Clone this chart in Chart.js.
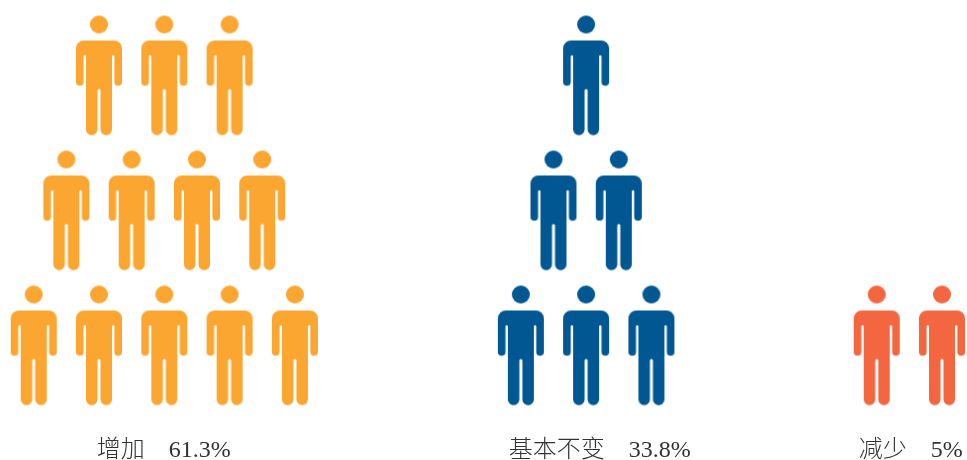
<!DOCTYPE html>
<html>
<head>
<meta charset="utf-8">
<style>
  html, body { margin: 0; padding: 0; background: #fff; }
  #wrap { width: 967px; height: 460px; }
  canvas { display: block; }
</style>
<script src="https://cdn.jsdelivr.net/npm/chart.js@4"></script>
</head>
<body>
<div id="wrap"><canvas id="chart" width="967" height="460"></canvas></div>
<script>
const categories = ['增加', '基本不变', '减少'];
const shares = [61.3, 33.8, 5];
// how many figures stand in each row, top row first
const figuresPerRow = [
    [3, 4, 5],
    [1, 2, 3],
    [0, 0, 2],
];
const colours = ['#fca632', '#005792', '#f36640'];

// layout, in grid units: one column = 65.3px, one row = 135px
const groupCentres = [2, 8.46, 13.41];
const labelCentres = [1.99, 8.67, 13.43];

function personIcon(colour) {
    const c = document.createElement('canvas');
    c.width = 48;
    c.height = 122;
    const g = c.getContext('2d');
    g.translate(24, 1);
    g.fillStyle = colour;

    g.beginPath();
    g.arc(0, 9, 9, 0, Math.PI * 2);
    g.fill();

    g.beginPath();
    g.moveTo(-15, 25);
    g.lineTo(15, 25);
    g.arcTo(23, 25, 23, 33, 8);
    g.lineTo(23, 66.5);
    g.arc(19.2, 66.5, 3.8, 0, Math.PI);
    g.lineTo(15.4, 41);
    g.arc(14.2, 41, 1.2, 0, Math.PI, true);
    g.lineTo(13, 114);
    g.arc(7.25, 114, 5.75, 0, Math.PI);
    g.lineTo(1.5, 75);
    g.arc(0, 75, 1.5, 0, Math.PI, true);
    g.lineTo(-1.5, 114);
    g.arc(-7.25, 114, 5.75, 0, Math.PI);
    g.lineTo(-13, 41);
    g.arc(-14.2, 41, 1.2, 0, Math.PI, true);
    g.lineTo(-15.4, 66.5);
    g.arc(-19.2, 66.5, 3.8, 0, Math.PI);
    g.lineTo(-23, 33);
    g.arcTo(-23, 25, -15, 25, 8);
    g.closePath();
    g.fill();
    return c;
}

function figurePoints(groupIndex) {
    const points = [];
    figuresPerRow[groupIndex].forEach((count, row) => {
        for (let i = 0; i < count; i++) {
            points.push({
                x: groupCentres[groupIndex] + i - (count - 1) / 2,
                y: figuresPerRow[groupIndex].length - 1 - row,
            });
        }
    });
    return points;
}

new Chart(document.getElementById('chart'), {
    type: 'scatter',
    data: {
        datasets: categories.map((name, i) => ({
            label: name,
            data: figurePoints(i),
            pointStyle: personIcon(colours[i]),
            clip: false,
        })),
    },
    options: {
        responsive: false,
        animation: false,
        devicePixelRatio: 1,
        layout: { padding: 0, autoPadding: false },
        plugins: {
            legend: { display: false },
            tooltip: { enabled: false },
        },
        scales: {
            x: {
                type: 'linear',
                min: -0.516,
                max: 14.293,
                grid: { display: false, drawTicks: false },
                border: { display: false },
                afterBuildTicks: (axis) => {
                    axis.ticks = labelCentres.map(value => ({ value }));
                },
                afterFit: (axis) => {
                    axis.height = 30;
                    // labels may hang over the edge, keep the plot full width
                    axis.paddingLeft = 0;
                    axis.paddingRight = 0;
                },
                ticks: {
                    autoSkip: false,
                    maxRotation: 0,
                    padding: 6,
                    color: '#333',
                    font: { family: '"Liberation Serif", "Noto Sans CJK SC"', size: 24, weight: 300 },
                    callback: (value, index) => `${categories[index]}\u3000${shares[index]}%`,
                },
            },
            y: {
                type: 'linear',
                display: false,
                min: -0.626,
                max: 2.559,
            },
        },
    },
});
</script>
</body>
</html>
